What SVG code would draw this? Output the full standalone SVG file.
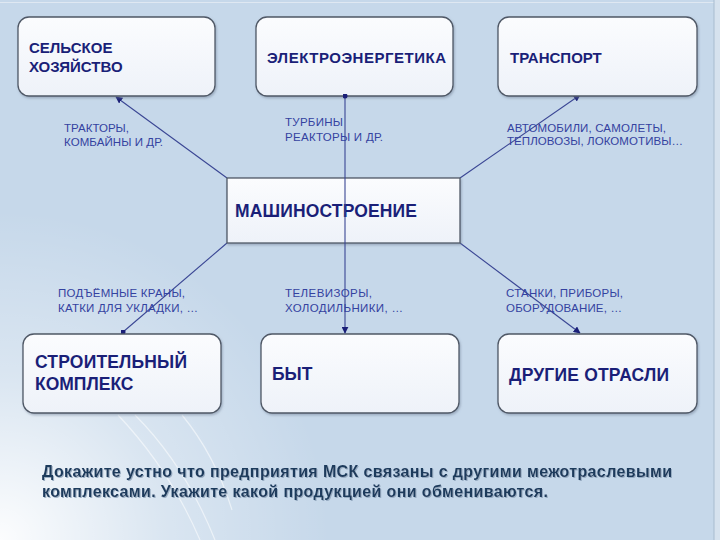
<svg xmlns="http://www.w3.org/2000/svg" width="720" height="540" viewBox="0 0 720 540">
<style>
.box{fill:url(#boxg);stroke:#4f5866;stroke-width:1.3}
.t{font-family:"Liberation Sans",Arial,sans-serif;font-weight:bold;fill:#1a1f78}
.s{font-family:"Liberation Sans",Arial,sans-serif;font-size:11.5px;fill:#3442a0}
.q{font-family:"Liberation Sans",Arial,sans-serif;font-weight:bold;font-size:16px;fill:#1e3a5c}
.c{stroke:#3a4694;stroke-width:1.1;fill:none}
</style>
<defs>
<linearGradient id="boxg" x1="0" y1="0" x2="0" y2="1">
<stop offset="0" stop-color="#fbfcfe"/>
<stop offset="1" stop-color="#eef2f9"/>
</linearGradient>
<radialGradient id="glow" cx="0" cy="540" r="330" gradientUnits="userSpaceOnUse">
<stop offset="0" stop-color="#ffffff" stop-opacity="0.95"/>
<stop offset="0.5" stop-color="#ffffff" stop-opacity="0.35"/>
<stop offset="1" stop-color="#ffffff" stop-opacity="0"/>
</radialGradient>
<filter id="sh" x="-10%" y="-10%" width="120%" height="130%">
<feDropShadow dx="1" dy="1.5" stdDeviation="1.2" flood-color="#6a7a90" flood-opacity="0.5"/>
</filter>
<filter id="tsh" x="-5%" y="-20%" width="110%" height="150%">
<feDropShadow dx="1" dy="1" stdDeviation="0.6" flood-color="#8aa0b8" flood-opacity="0.8"/>
</filter>
<marker id="arr" viewBox="0 0 10 10" refX="9" refY="5" markerWidth="7" markerHeight="7" orient="auto" markerUnits="userSpaceOnUse">
<path d="M0,0 L10,5 L0,10 Z" fill="#1a1f78"/>
</marker>
<marker id="dot" viewBox="0 0 10 10" refX="5" refY="5" markerWidth="5" markerHeight="5" markerUnits="userSpaceOnUse">
<circle cx="5" cy="5" r="5" fill="#1a1f78"/>
</marker>
</defs>
<rect x="0" y="0" width="720" height="540" fill="#c6d8ea"/>
<rect x="0" y="0" width="720" height="540" fill="url(#glow)"/>
<rect x="714" y="0" width="6" height="540" fill="#d6e2ee"/>
<line x1="0" y1="2.5" x2="714" y2="2.5" stroke="#dfe8f2" stroke-width="1"/>
<line x1="714" y1="0" x2="714" y2="540" stroke="#a8bccf" stroke-width="1"/>
<g fill="none" stroke="#ffffff" stroke-opacity="0.55" stroke-width="1.2">
<path d="M118,415 Q170,470 200,540"/>
<path d="M135,415 Q185,465 215,540"/>
<path d="M182,415 Q215,455 232,510"/>
</g>

<g id="connectors">
<line class="c" x1="227" y1="178" x2="116" y2="97" marker-end="url(#arr)"/>
<line class="c" x1="460" y1="178" x2="580" y2="95" marker-end="url(#arr)"/>
<line class="c" x1="227" y1="243" x2="123" y2="332" marker-end="url(#dot)"/>
<line class="c" x1="460" y1="243" x2="580" y2="333" marker-end="url(#arr)"/>
</g>

<g id="n1"><rect class="box" filter="url(#sh)" x="18" y="17" width="197" height="79" rx="11"/>
<text class="t" font-size="15" x="29" y="53">СЕЛЬСКОЕ</text>
<text class="t" font-size="15" x="29" y="72">ХОЗЯЙСТВО</text></g>
<g id="n2"><rect class="box" filter="url(#sh)" x="256" y="17" width="197" height="79" rx="11"/>
<text class="t" font-size="15" x="267" y="63" textLength="179">ЭЛЕКТРОЭНЕРГЕТИКА</text></g>
<g id="n3"><rect class="box" filter="url(#sh)" x="498" y="17" width="199" height="79" rx="11"/>
<text class="t" font-size="15" x="510" y="63">ТРАНСПОРТ</text></g>
<g id="center"><rect class="box" filter="url(#sh)" x="227" y="178" width="233" height="65" rx="0"/>
<text class="t" font-size="17.5" x="235" y="217" textLength="182">МАШИНОСТРОЕНИЕ</text></g>
<g id="n4"><rect class="box" filter="url(#sh)" x="23" y="334" width="198" height="79" rx="11"/>
<text class="t" font-size="17.5" x="35" y="368" textLength="152">СТРОИТЕЛЬНЫЙ</text>
<text class="t" font-size="17.5" x="35" y="390">КОМПЛЕКС</text></g>
<g id="n5"><rect class="box" filter="url(#sh)" x="261" y="334" width="198" height="79" rx="11"/>
<text class="t" font-size="17.5" x="272" y="380">БЫТ</text></g>
<g id="n6"><rect class="box" filter="url(#sh)" x="498" y="334" width="199" height="79" rx="11"/>
<text class="t" font-size="17.5" x="509" y="381" textLength="160">ДРУГИЕ ОТРАСЛИ</text></g>

<g id="connector-vertical">
<line class="c" x1="345" y1="96" x2="345" y2="333" marker-start="url(#dot)" marker-end="url(#arr)"/>
</g>

<g id="labels">
<text class="s" x="64" y="132" textLength="65">ТРАКТОРЫ,</text>
<text class="s" x="64" y="146" textLength="99">КОМБАЙНЫ И ДР.</text>
<text class="s" x="285" y="126" textLength="58">ТУРБИНЫ</text>
<text class="s" x="285" y="141" textLength="98">РЕАКТОРЫ И ДР.</text>
<text class="s" x="507" y="132" textLength="159">АВТОМОБИЛИ, САМОЛЕТЫ,</text>
<text class="s" x="507" y="145" textLength="176">ТЕПЛОВОЗЫ, ЛОКОМОТИВЫ…</text>
<text class="s" x="58" y="297" textLength="127">ПОДЪЁМНЫЕ КРАНЫ,</text>
<text class="s" x="58" y="312" textLength="140">КАТКИ ДЛЯ УКЛАДКИ, …</text>
<text class="s" x="285" y="297" textLength="87">ТЕЛЕВИЗОРЫ,</text>
<text class="s" x="285" y="312" textLength="118">ХОЛОДИЛЬНИКИ, …</text>
<text class="s" x="506" y="297" textLength="117">СТАНКИ, ПРИБОРЫ,</text>
<text class="s" x="506" y="312" textLength="116">ОБОРУДОВАНИЕ, …</text>
</g>

<g id="question" filter="url(#tsh)">
<text class="q" x="42" y="477" textLength="630">Докажите устно что предприятия МСК связаны с другими межотраслевыми</text>
<text class="q" x="42" y="497" textLength="506">комплексами. Укажите какой продукцией они обмениваются.</text>
</g>
</svg>
